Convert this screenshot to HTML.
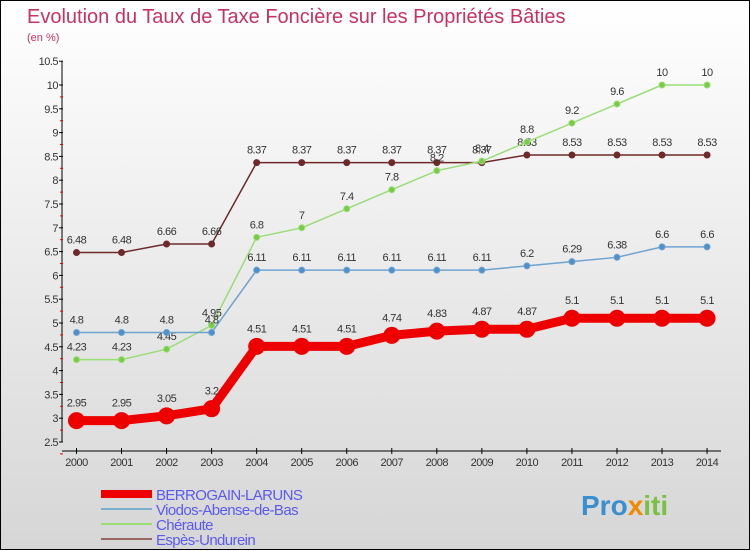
<!DOCTYPE html>
<html><head><meta charset="utf-8">
<style>
html,body{margin:0;padding:0;}
body{width:750px;height:550px;overflow:hidden;font-family:"Liberation Sans",sans-serif;}
#wrap{position:relative;width:748px;height:548px;border:1px solid #000;background:linear-gradient(#ffffff,#d6d6d6);}
svg{position:absolute;left:0;top:0;}
</style></head>
<body>
<div id="wrap">
<svg id="chart" width="750" height="550">
<text x="26" y="22" font-size="20" fill="#c8325f">Evolution du Taux de Taxe Foncière sur les Propriétés Bâties</text>
<text x="26" y="40" font-size="11" fill="#c8325f">(en %)</text>
<text x="580" y="514" font-size="28" font-weight="bold" fill="#3a8fd0">Pro<tspan fill="#f08a00">x</tspan><tspan fill="#7bc043">iti</tspan></text>
</svg>
</div>
<script>
const years=[2000,2001,2002,2003,2004,2005,2006,2007,2008,2009,2010,2011,2012,2013,2014];
const berrogain=[2.95,2.95,3.05,3.2,4.51,4.51,4.51,4.74,4.83,4.87,4.87,5.1,5.1,5.1,5.1];
const viodos=[4.8,4.8,4.8,4.8,6.11,6.11,6.11,6.11,6.11,6.11,6.2,6.29,6.38,6.6,6.6];
const cheraute=[4.23,4.23,4.45,4.95,6.8,7,7.4,7.8,8.2,8.4,8.8,9.2,9.6,10,10];
const espes=[6.48,6.48,6.66,6.66,8.37,8.37,8.37,8.37,8.37,8.37,8.53,8.53,8.53,8.53,8.53];
const yTicks=[2.5,3,3.5,4,4.5,5,5.5,6,6.5,7,7.5,8,8.5,9,9.5,10,10.5];
const NS="http://www.w3.org/2000/svg";
const svg=document.getElementById('chart');
const X=y=>75.5+(y-2000)*45.04;
const Y=v=>441-(v-2.5)*47.6;
function mk(t,a,parent){const e=document.createElementNS(NS,t);for(const k in a)e.setAttribute(k,a[k]);(parent||svg).appendChild(e);return e;}
// axes
const ax=mk('line',{x1:61,y1:60,x2:61,y2:441,stroke:'#000','stroke-width':1});


const bx=mk('line',{x1:61,y1:450,x2:720,y2:450,stroke:'#000','stroke-width':1});


yTicks.forEach(v=>{
  mk('line',{x1:58,y1:Y(v),x2:62,y2:Y(v),stroke:'#000'});
  mk('line',{x1:59,y1:Y(v)+11.9,x2:62,y2:Y(v)+11.9,stroke:v<10.5?'#e00':'none'});
  const t=mk('text',{x:57,y:Y(v)+4,'font-size':11,'text-anchor':'end',fill:'#333','letter-spacing':'-0.5'});
  t.textContent=v;
  
  
});
years.forEach(y=>{
  mk('line',{x1:X(y),y1:447,x2:X(y),y2:453,stroke:'#000'});
  const t=mk('text',{x:X(y),y:465,'font-size':11,'text-anchor':'middle',fill:'#333','letter-spacing':'-0.5'});
  t.textContent=y;
  
  
});
function series(vals,color,w,r,name,dotFill){
  const g=mk('g',{});
  
  
  mk('polyline',{points:vals.map((v,i)=>X(years[i])+','+Y(v)).join(' '),fill:'none',stroke:color,'stroke-width':w,'stroke-linejoin':'round'},g);
  vals.forEach((v,i)=>{
    const c=mk('circle',{cx:X(years[i]),cy:Y(v),r:r,fill:dotFill,stroke:color,'stroke-width':1},g);
    
    
    const t=mk('text',{x:X(years[i]),y:Y(v)-(r+6),'font-size':11,'text-anchor':'middle',fill:'#333','letter-spacing':'-0.5'},g);
    t.textContent=v;
    
    
  });
}
series(espes,'#6e2a2a',1.5,3,'espes-undurein-series','#6e2a2a');
series(cheraute,'#99dd77',1.5,3,'cheraute-series','#77cc44');
series(viodos,'#6fa3cf',1.5,3,'viodos-series','#4c90cc');
series(berrogain,'#ee0000',9,8,'berrogain-series','#ee0000');
// legend
const leg=[['BERROGAIN-LARUNS','#ee0000',8],['Viodos-Abense-de-Bas','#7aaccc',2],['Chéraute','#99dd77',2],['Espès-Undurein','#996666',2]];
leg.forEach((l,i)=>{
  const yy=493+i*15;
  const g=mk('g',{});
  
  
  mk('line',{x1:100,y1:yy,x2:151,y2:yy,stroke:l[1],'stroke-width':l[2]},g);
  const t=mk('text',{x:155,y:yy+6,'font-size':15,fill:'#5a5aee','letter-spacing':'-0.6'},g);
  t.textContent=l[0];
});
</script>
</body></html>
